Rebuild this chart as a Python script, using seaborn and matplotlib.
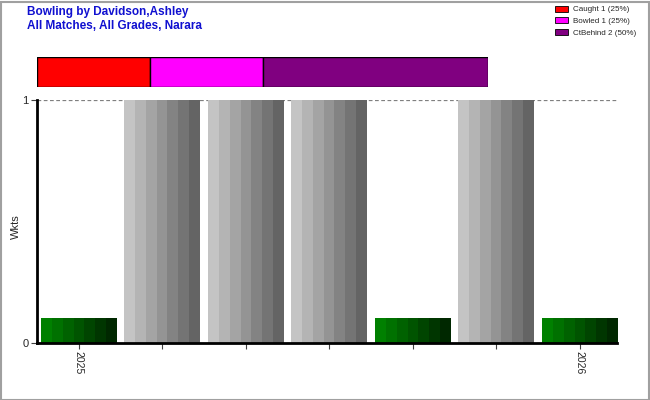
import numpy as np
import pandas as pd
import matplotlib
matplotlib.use("Agg")
import matplotlib.pyplot as plt
from matplotlib.patches import Patch, Rectangle
import seaborn as sns

# Wickets per innings slot (0.1 marks an innings bowled without a wicket)
slots = ["s1", "s2", "s3", "s4", "s5", "s6", "s7"]
wkts = [0.1, 1, 1, 1, 0.1, 1, 0.1]
kind = ["nil", "wkt", "wkt", "wkt", "nil", "wkt", "nil"]
tick_labels = ["2025", "", "", "", "", "", "2026"]

# Dismissal breakdown
dis_names = ["Caught", "Bowled", "CtBehind"]
dis_counts = [1, 1, 2]
dis_pct = [25, 25, 50]
dis_colors = ["#ff0000", "#ff00ff", "#800080"]

sns.set_theme(style="white")
plt.rcParams["font.family"] = ["Liberation Sans", "DejaVu Sans"]

fig = plt.figure(figsize=(6.5, 4.0), dpi=100)
W, H = 650, 400

def px_axes(x0, y0, x1, y1):
    return fig.add_axes([x0 / W, 1 - y1 / H, (x1 - x0) / W, (y1 - y0) / H])

ax = px_axes(37, 100, 617, 343)
df = pd.DataFrame({"slot": slots, "wkts": wkts, "kind": kind})
sns.barplot(data=df, x="slot", y="wkts", ax=ax, width=0.9, color="white",
            linewidth=0, order=slots)

# Paint each bar with vertical stripes of shaded colour
green_ramp = np.array([[0, 128, 0], [0, 40, 0]]) / 255
grey_ramp = np.array([[196, 196, 196], [100, 100, 100]]) / 255
n_stripes = 7
for patch, k in zip(ax.patches, kind):
    x0, y0 = patch.get_x(), patch.get_y()
    w, h = patch.get_width(), patch.get_height()
    ramp = green_ramp if k == "nil" else grey_ramp
    t = np.linspace(0, 1, n_stripes)[:, None]
    cols = ramp[0] * (1 - t) + ramp[1] * t
    ax.imshow(cols[None, :, :], extent=(x0, x0 + w, y0, y0 + h), aspect="auto",
              interpolation="nearest", zorder=2)
ax.set_xlim(-0.497, 6.449)
ax.set_ylim(0, 1)

for yv in (0, 1):
    ax.axhline(yv, color="#808080", lw=0.9, ls=(0, (3, 2)), zorder=1)

ax.set_yticks([0, 1])
ax.set_yticklabels(["0", "1"], fontsize=8)
ax.set_xticks(range(len(slots)))
ax.set_xticklabels(tick_labels, rotation=-90, fontsize=7.5)
ax.tick_params(axis="both", which="both", length=4, width=0.8, color="#404040",
               direction="out", bottom=True, left=True, pad=2)
ax.set_xlabel("")
ax.set_ylabel("Wkts", fontsize=8, va="center")
ax.yaxis.set_label_coords(-21 / 580, 0.48)
for s in ("top", "right"):
    ax.spines[s].set_visible(False)
for s in ("left", "bottom"):
    ax.spines[s].set_color("black")
    ax.spines[s].set_linewidth(2)
    ax.spines[s].set_zorder(5)

# Stacked dismissal bar
bx = px_axes(37, 57, 488, 87)
left = 0
for name, n, c in zip(dis_names, dis_counts, dis_colors):
    bx.barh(0, n, left=left, height=1, color=c, edgecolor="black", linewidth=1)
    left += n
bx.set_xlim(0, sum(dis_counts))
bx.set_ylim(-0.5, 0.5)
bx.axis("off")

# Titles
fig.text(27 / W, 1 - 12 / H, "Bowling by Davidson,Ashley", color="#1010d0",
         fontsize=8.5, fontweight="bold", va="center", ha="left")
fig.text(27 / W, 1 - 26 / H, "All Matches, All Grades, Narara", color="#1010d0",
         fontsize=8.5, fontweight="bold", va="center", ha="left")

# Legend
handles = [Patch(facecolor=c, edgecolor="black", linewidth=0.6,
                 label=f"{nm} {n} ({p}%)")
           for nm, n, p, c in zip(dis_names, dis_counts, dis_pct, dis_colors)]
fig.legend(handles=handles, loc="upper left", bbox_to_anchor=(553 / W, 1 - 4 / H),
           frameon=False, fontsize=5.8, handlelength=1.7, handleheight=0.8,
           handletextpad=0.6, labelspacing=0.45, borderaxespad=0, borderpad=0.2)

# Outer frame
fig.patches.append(Rectangle((0.5 / W, 0.5 / H), 1 - 2 / W, 1 - 2 / H,
                             transform=fig.transFigure, fill=False,
                             edgecolor="#a0a0a0", linewidth=1.5))

fig.savefig("out.png", dpi=100)
